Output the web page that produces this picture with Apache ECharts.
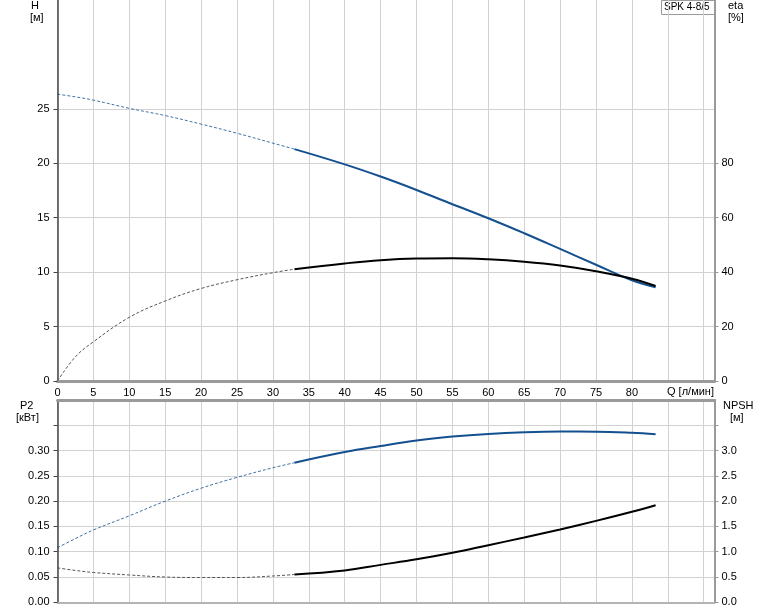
<!DOCTYPE html>
<html>
<head>
<meta charset="utf-8">
<script src="https://cdn.jsdelivr.net/npm/echarts@6/dist/echarts.min.js"></script>
<style>html,body{margin:0;padding:0;background:#fff}#c{width:774px;height:611px}</style>
</head>
<body>
<div id="c"></div>
<script>
// ---- data ----
var qLow  = [0, 2.5, 5, 10, 15, 20, 25, 30, 33];
var qHigh = [33, 40, 45, 50, 55, 60, 65, 70, 75, 80, 83.3];

var hLow  = [26.35, 26.1, 25.8, 25.05, 24.38, 23.6, 22.76, 21.85, 21.3];
var hHigh = [21.3, 19.9, 18.78, 17.55, 16.24, 14.95, 13.57, 12.13, 10.68, 9.25, 8.6];

var etaLow  = [0, 8.9, 14.4, 23.4, 29.4, 34.0, 37.2, 39.8, 41.1];
var etaHigh = [41.1, 43.2, 44.4, 45.0, 45.1, 44.7, 43.8, 42.4, 40.3, 37.6, 34.9];

var p2Low  = [0.108, 0.126, 0.143, 0.171, 0.200, 0.2256, 0.247, 0.266, 0.276];
var p2High = [0.276, 0.297, 0.309, 0.320, 0.3277, 0.333, 0.3362, 0.3376, 0.3374, 0.3352, 0.3324];

var npshLow  = [0.68, 0.63, 0.59, 0.54, 0.50, 0.49, 0.49, 0.52, 0.55];
var npshHigh = [0.55, 0.63, 0.74, 0.85, 0.98, 1.13, 1.28, 1.44, 1.61, 1.79, 1.92];

var qTicks    = [0, 5, 10, 15, 20, 25, 30, 35, 40, 45, 50, 55, 60, 65, 70, 75, 80];
var hTicks    = [0, 5, 10, 15, 20, 25];
var etaTicks  = [0, 20, 40, 60, 80];
var p2Ticks   = [0, 0.05, 0.10, 0.15, 0.20, 0.25, 0.30, 0.35];
var p2Labels  = [0, 0.05, 0.10, 0.15, 0.20, 0.25, 0.30];
var npshTicks = [0, 0.5, 1.0, 1.5, 2.0, 2.5, 3.0, 3.5];
var npshLabels= [0, 0.5, 1.0, 1.5, 2.0, 2.5, 3.0];

var modelName = 'SPK 4-8/5';

function zip(xs, ys){ return xs.map(function(x,i){ return [x, ys[i]]; }); }

var FONT = 'Liberation Sans, Arial, sans-serif';
var BLUE = '#13508f';
var GRID_C = '#d2d2d2';
var SM = 0.4;
var lbl = {color:'#000', fontSize:11, fontFamily:FONT};

var chart = echarts.init(document.getElementById('c'), null, {renderer:'canvas'});
chart.setOption({
  animation:false,
  backgroundColor:'#fff',
  grid:[
    {left:57.5, right:59.5, top:0, height:381},
    {left:57.5, right:59.5, top:400, height:202.3}
  ],
  xAxis:[
    {gridIndex:0, type:'value', min:0, max:91.5, interval:5, position:'bottom',
     axisLine:{show:true, onZero:false, lineStyle:{color:'#9a9a9a', width:3}},
     axisTick:{show:false},
     axisLabel:Object.assign({margin:6, customValues:qTicks}, lbl),
     splitLine:{show:true, lineStyle:{color:GRID_C, width:1}}},
    {gridIndex:1, type:'value', min:0, max:91.5, interval:5, position:'top',
     axisLine:{show:true, onZero:false, lineStyle:{color:'#9a9a9a', width:3}},
     axisTick:{show:false}, axisLabel:{show:false},
     splitLine:{show:true, lineStyle:{color:GRID_C, width:1}}},
    {gridIndex:1, type:'value', min:0, max:91.5, interval:5, position:'bottom',
     axisLine:{show:true, onZero:false, lineStyle:{color:'#b4b4b4', width:2}},
     axisTick:{show:false}, axisLabel:{show:false}, splitLine:{show:false}}
  ],
  yAxis:[
    {gridIndex:0, type:'value', min:0, max:35, interval:5, position:'left',
     axisLine:{show:true, onZero:false, lineStyle:{color:'#444', width:1.5}},
     axisTick:{show:true, length:4, customValues:hTicks, lineStyle:{color:'#444'}},
     axisLabel:Object.assign({margin:8, customValues:hTicks}, lbl),
     splitLine:{show:true, lineStyle:{color:GRID_C, width:1}}},
    {gridIndex:0, type:'value', min:0, max:140, interval:20, position:'right',
     axisLine:{show:true, onZero:false, lineStyle:{color:'#9a9a9a', width:2}},
     axisTick:{show:true, length:4, customValues:etaTicks, lineStyle:{color:'#9a9a9a'}},
     axisLabel:Object.assign({margin:7, customValues:etaTicks}, lbl),
     splitLine:{show:false}},
    {gridIndex:1, type:'value', min:0, max:0.4, interval:0.05, position:'left',
     axisLine:{show:true, onZero:false, lineStyle:{color:'#444', width:1.5}},
     axisTick:{show:true, length:4, customValues:p2Ticks, lineStyle:{color:'#444'}},
     axisLabel:Object.assign({margin:8, customValues:p2Labels, formatter:function(v){return v.toFixed(2);}}, lbl),
     splitLine:{show:true, lineStyle:{color:GRID_C, width:1}}},
    {gridIndex:1, type:'value', min:0, max:4, interval:0.5, position:'right',
     axisLine:{show:true, onZero:false, lineStyle:{color:'#9a9a9a', width:2}},
     axisTick:{show:true, length:4, customValues:npshTicks, lineStyle:{color:'#9a9a9a'}},
     axisLabel:Object.assign({margin:7, customValues:npshLabels, formatter:function(v){return v.toFixed(1);}}, lbl),
     splitLine:{show:false}}
  ],
  series:[
    {type:'line', xAxisIndex:0, yAxisIndex:0, data:zip(qLow,hLow), smooth:SM, showSymbol:false,
     lineStyle:{color:BLUE, width:1, type:[3,2], opacity:0.8}},
    {type:'line', xAxisIndex:0, yAxisIndex:0, data:zip(qHigh,hHigh), smooth:SM, showSymbol:false,
     lineStyle:{color:BLUE, width:2}},
    {type:'line', xAxisIndex:0, yAxisIndex:1, data:zip(qLow,etaLow), smooth:SM, showSymbol:false,
     lineStyle:{color:'#555', width:1, type:[3,2]}},
    {type:'line', xAxisIndex:0, yAxisIndex:1, data:zip(qHigh,etaHigh), smooth:SM, showSymbol:false,
     lineStyle:{color:'#000', width:2}},
    {type:'line', xAxisIndex:1, yAxisIndex:2, data:zip(qLow,p2Low), smooth:SM, showSymbol:false,
     lineStyle:{color:BLUE, width:1, type:[3,2], opacity:0.8}},
    {type:'line', xAxisIndex:1, yAxisIndex:2, data:zip(qHigh,p2High), smooth:SM, showSymbol:false,
     lineStyle:{color:BLUE, width:2}},
    {type:'line', xAxisIndex:1, yAxisIndex:3, data:zip(qLow,npshLow), smooth:SM, showSymbol:false,
     lineStyle:{color:'#555', width:1, type:[3,2]}},
    {type:'line', xAxisIndex:1, yAxisIndex:3, data:zip(qHigh,npshHigh), smooth:SM, showSymbol:false,
     lineStyle:{color:'#000', width:2}}
  ],
  graphic:[
    {type:'text', left:31, top:0, style:{text:'H', font:'11px '+FONT, fill:'#000'}},
    {type:'text', left:30, top:12, style:{text:'[м]', font:'11px '+FONT, fill:'#000'}},
    {type:'text', left:728, top:0, style:{text:'eta', font:'11px '+FONT, fill:'#000'}},
    {type:'text', left:728, top:12, style:{text:'[%]', font:'11px '+FONT, fill:'#000'}},
    {type:'text', left:20, top:400, style:{text:'P2', font:'11px '+FONT, fill:'#000'}},
    {type:'text', left:16, top:412, style:{text:'[кВт]', font:'11px '+FONT, fill:'#000'}},
    {type:'text', left:723, top:400, style:{text:'NPSH', font:'11px '+FONT, fill:'#000'}},
    {type:'text', left:730, top:412, style:{text:'[м]', font:'11px '+FONT, fill:'#000'}},
    {type:'text', left:667, top:386, style:{text:'Q [л/мин]', font:'11px '+FONT, fill:'#000'}},
    {type:'group', left:661, top:0, z:100, children:[
      {type:'rect', shape:{x:0.5, y:0.5, width:53, height:14}, style:{fill:'#fff', stroke:'#9a9a9a', lineWidth:1}},
      {type:'text', x:3, y:2, style:{text:modelName, font:'10px '+FONT, fill:'#000'}}
    ]}
  ]
});
</script>
</body>
</html>
